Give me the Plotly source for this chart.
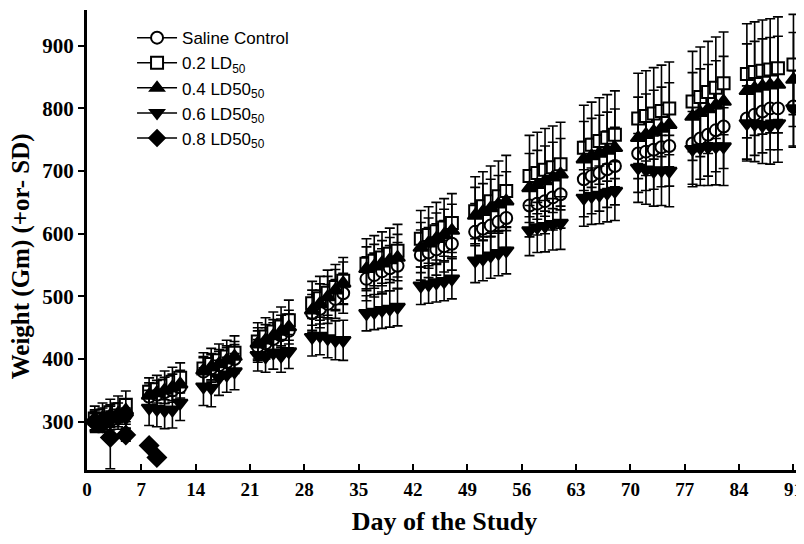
import plotly.graph_objects as go

days = [1, 2, 3, 4, 5, 8, 9, 10, 11, 12, 15, 16, 17, 18, 19, 22, 23, 24, 25, 26,
        29, 30, 31, 32, 33, 36, 37, 38, 39, 40, 43, 44, 45, 46, 47, 50, 51, 52, 53, 54,
        57, 58, 59, 60, 61, 64, 65, 66, 67, 68, 71, 72, 73, 74, 75, 78, 79, 80, 81, 82,
        85, 86, 87, 88, 89, 91]

saline = [302, 305, 306, 308, 312, 340, 343, 347, 350, 355, 380, 385, 390, 395, 400,
          420, 425, 432, 438, 445, 473, 480, 488, 496, 505, 528, 534, 540, 545, 549,
          566, 570, 575, 580, 584, 603, 608, 613, 619, 625, 645, 648, 652, 658, 663,
          687, 692, 697, 703, 708, 728, 731, 734, 738, 740, 744, 752, 758, 765, 771,
          784, 790, 795, 800, 800, 803]
saline_sd = [15, 15, 15, 16, 16, 18, 18, 18, 19, 19, 22, 22, 22, 23, 23, 25, 25, 26, 26, 27,
             30, 30, 31, 31, 32, 35, 35, 36, 36, 37, 40, 40, 41, 41, 42, 45, 45, 46, 46, 47,
             50, 50, 52, 52, 54, 60, 60, 61, 61, 62, 62, 62, 63, 63, 64, 65, 65, 66, 66, 67,
             65, 65, 66, 66, 66, 65]

ld02 = [305, 310, 315, 320, 327, 348, 352, 358, 364, 370, 385, 392, 398, 404, 410,
        428, 436, 444, 452, 462, 489, 497, 506, 515, 525, 552, 557, 562, 568, 573,
        592, 598, 604, 610, 617, 636, 644, 652, 660, 668, 692, 697, 702, 706, 711,
        737, 742, 748, 753, 758, 784, 788, 792, 796, 800, 811, 818, 826, 833, 840,
        855, 858, 860, 862, 864, 870]
ld02_sd = [20, 20, 21, 21, 22, 22, 22, 23, 23, 24, 25, 25, 26, 26, 27, 30, 30, 31, 31, 32,
           35, 35, 36, 36, 37, 40, 40, 41, 41, 42, 45, 45, 46, 46, 47, 55, 55, 56, 56, 57,
           65, 65, 66, 66, 67, 68, 68, 69, 69, 70, 72, 72, 73, 73, 74, 80, 80, 81, 81, 82,
           80, 80, 81, 81, 82, 80]

ld04 = [303, 306, 310, 313, 318, 342, 346, 350, 355, 360, 382, 387, 392, 398, 404,
        425, 430, 437, 444, 451, 478, 488, 499, 510, 521, 544, 548, 553, 558, 562,
        578, 585, 592, 598, 605, 629, 635, 641, 647, 652, 673, 678, 684, 690, 695,
        719, 724, 728, 733, 737, 753, 758, 763, 768, 774, 787, 793, 799, 805, 811,
        828, 832, 835, 837, 838, 846]
ld04_sd = [16, 16, 17, 17, 18, 20, 20, 21, 21, 22, 22, 22, 23, 23, 24, 25, 25, 26, 26, 27,
           32, 32, 33, 33, 34, 35, 35, 36, 36, 37, 40, 40, 41, 41, 42, 45, 45, 46, 46, 47,
           55, 55, 56, 56, 57, 60, 60, 61, 61, 62, 65, 65, 66, 66, 67, 70, 70, 71, 71, 72,
           75, 75, 76, 76, 77, 75]

ld06 = [298, 300, 302, 304, 306, 322, 320, 318, 319, 330, 356, 354, 370, 375, 380,
        406, 404, 410, 405, 412, 435, 437, 433, 430, 430, 473, 475, 478, 480, 483,
        517, 519, 522, 524, 528, 557, 560, 565, 569, 573, 605, 610, 612, 615, 617,
        657, 660, 662, 665, 668, 705, 702, 700, 701, 700, 735, 737, 738, 739, 739,
        776, 775, 773, 772, 776, 800]
ld06_sd = [15, 15, 15, 16, 16, 28, 28, 29, 29, 28, 30, 30, 28, 28, 29, 25, 25, 26, 26, 27,
           30, 30, 31, 31, 32, 28, 28, 29, 29, 30, 30, 30, 31, 31, 32, 35, 35, 36, 36, 37,
           40, 40, 41, 41, 42, 45, 45, 46, 46, 47, 55, 55, 56, 56, 57, 60, 60, 61, 61, 62,
           60, 60, 61, 61, 62, 60]

ld08_days = [1, 2, 3, 5, 8, 9]
ld08 = [300, 298, 275, 279, 262, 243]
ld08_sd = [15, 15, 50, 10, 0, 0]

names = ["Saline Control", "0.2 LD<sub>50</sub>", "0.4 LD50<sub>50</sub>",
         "0.6 LD50<sub>50</sub>", "0.8 LD50<sub>50</sub>"]
x_ticks = [0, 7, 14, 21, 28, 35, 42, 49, 56, 63, 70, 77, 84, 91]
y_ticks = [300, 400, 500, 600, 700, 800, 900]

series = [
    (days, saline, saline_sd, "circle", "white", 12),
    (days, ld02, ld02_sd, "square", "white", 12),
    (days, ld04, ld04_sd, "triangle-up", "black", 13),
    (days, ld06, ld06_sd, "triangle-down", "black", 13),
    (ld08_days, ld08, ld08_sd, "diamond", "black", 14),
]

fig = go.Figure()
for (xs, ys, sd, sym, fill, sz) in series:
    fig.add_trace(go.Scatter(
        x=xs, y=ys, mode="markers", showlegend=False,
        marker=dict(symbol=sym, size=sz, color=fill, line=dict(color="black", width=2)),
        error_y=dict(type="data", array=sd, visible=True, color="black",
                     thickness=1.6, width=5),
    ))

for (xs, ys, sd, sym, fill, sz), nm in zip(series, names):
    fig.add_trace(go.Scatter(
        x=[None], y=[None], mode="lines+markers", name=nm, showlegend=True,
        line=dict(color="black", width=1.5),
        marker=dict(symbol=sym, size=12, color=fill, line=dict(color="black", width=2)),
    ))

serif = "Liberation Serif"
fig.update_layout(
    width=796, height=536,
    margin=dict(l=79, r=2, t=2, b=74, autoexpand=False),
    paper_bgcolor="white", plot_bgcolor="white",
    showlegend=True,
    legend=dict(x=0.063, y=0.978, xanchor="left", yanchor="top",
                font=dict(family="Liberation Sans", size=17, color="black"),
                bgcolor="rgba(0,0,0,0)", tracegroupgap=4, itemwidth=40),
    xaxis=dict(range=[0, 92.1], tickvals=x_ticks, ticktext=[str(t) for t in x_ticks],
               automargin=False,
               showgrid=False, zeroline=False, showline=True, linecolor="black",
               linewidth=3, ticks="inside", ticklen=6, tickwidth=2, tickcolor="black",
               tickfont=dict(family=serif, size=19, color="black", weight="bold"),
               title=dict(text="<b>Day of the Study</b>", font=dict(family=serif, size=26, color="black"),
                          standoff=14)),
    yaxis=dict(range=[223, 957], tickvals=y_ticks, ticktext=[str(t) for t in y_ticks],
               automargin=False,
               showgrid=False, zeroline=False, showline=True, linecolor="black",
               linewidth=3, ticks="outside", ticklen=6, tickwidth=2, tickcolor="black",
               tickfont=dict(family=serif, size=21, color="black", weight="bold")),
    annotations=[dict(text="<b>Weight (Gm) (+or- SD)</b>", xref="paper", yref="paper",
                      x=-0.092, y=0.465, xanchor="center", yanchor="middle",
                      textangle=-90, showarrow=False,
                      font=dict(family=serif, size=25, color="black"))],
)

fig.write_html("out.html")
